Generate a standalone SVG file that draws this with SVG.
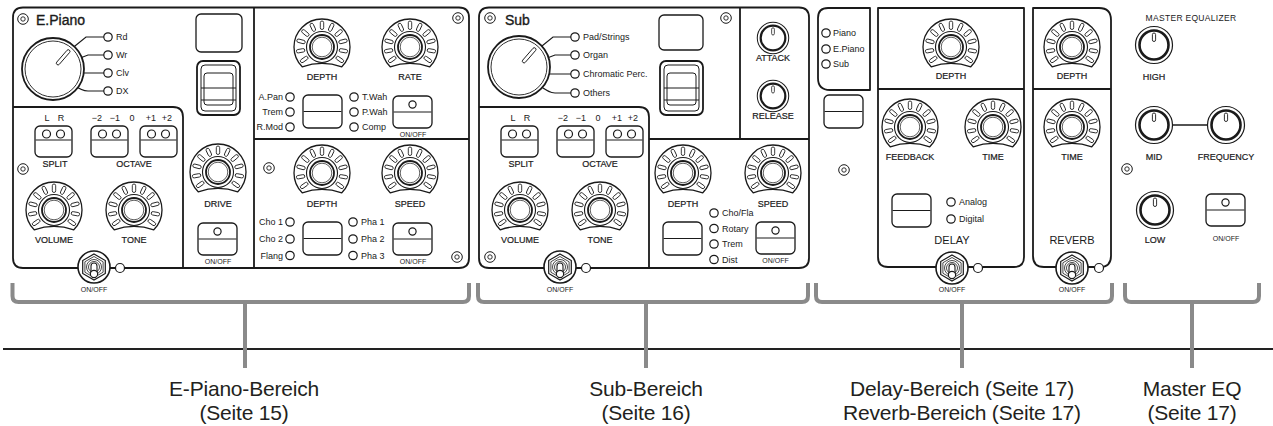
<svg xmlns="http://www.w3.org/2000/svg" width="1273" height="426" viewBox="0 0 1273 426">
<style>
.pn{fill:none;stroke:#1a1a1a;stroke-width:1.8;stroke-linejoin:round}
.w{fill:#fff;stroke:#1a1a1a;stroke-width:1.3}
.led{fill:#fff;stroke:#1a1a1a;stroke-width:1.2}
.th{fill:none;stroke:#1a1a1a;stroke-width:1.2}
text{font-family:"Liberation Sans",Arial,Helvetica,sans-serif;fill:#1a1a1a}
.k{font-size:9px;text-anchor:middle;stroke:#1a1a1a;stroke-width:0.2}
.lb{font-size:9px}
.e{text-anchor:end}
.m{text-anchor:middle}
.oo{font-size:7px;text-anchor:middle}
.ttl{font-size:14px;stroke:#1a1a1a;stroke-width:0.35}
.big{font-size:21px;text-anchor:middle;fill:#231f20;letter-spacing:-0.2px}
.br{fill:none;stroke:#8a8a8a;stroke-width:4;stroke-linejoin:round}
.stem{stroke:#8a8a8a;stroke-width:4}
</style>
<defs>
<g id="rk">
<path d="M-19.8,19.8 A28,28 0 1 1 19.8,19.8 Q0,13 -19.8,19.8 Z" fill="#fff" stroke="#1a1a1a" stroke-width="1.3"/>
<g fill="#fff" stroke="#1a1a1a" stroke-width="0.85">
<rect x="-1.7" y="-26" width="3.4" height="8.5" rx="1.7" transform="rotate(-125)"/>
<rect x="-1.7" y="-26" width="3.4" height="8.5" rx="1.7" transform="rotate(-100)"/>
<rect x="-1.7" y="-26" width="3.4" height="8.5" rx="1.7" transform="rotate(-75)"/>
<rect x="-1.7" y="-26" width="3.4" height="8.5" rx="1.7" transform="rotate(-50)"/>
<rect x="-1.7" y="-26" width="3.4" height="8.5" rx="1.7" transform="rotate(-25)"/>
<rect x="-1.7" y="-26" width="3.4" height="8.5" rx="1.7"/>
<rect x="-1.7" y="-26" width="3.4" height="8.5" rx="1.7" transform="rotate(25)"/>
<rect x="-1.7" y="-26" width="3.4" height="8.5" rx="1.7" transform="rotate(50)"/>
<rect x="-1.7" y="-26" width="3.4" height="8.5" rx="1.7" transform="rotate(75)"/>
<rect x="-1.7" y="-26" width="3.4" height="8.5" rx="1.7" transform="rotate(100)"/>
<rect x="-1.7" y="-26" width="3.4" height="8.5" rx="1.7" transform="rotate(125)"/>
</g>
<circle r="15.5" fill="#fff" stroke="#1a1a1a" stroke-width="1.1"/>
<circle r="12" fill="#fff" stroke="#1a1a1a" stroke-width="1.8"/>
<circle r="9.8" fill="none" stroke="#1a1a1a" stroke-width="0.7"/>
</g>
<g id="sk">
<circle r="18.5" fill="#fff" stroke="#1a1a1a" stroke-width="1.2"/>
<circle r="14.5" fill="#fff" stroke="#1a1a1a" stroke-width="2.6"/>
<rect x="-1.6" y="-12" width="3.2" height="8.5" rx="1.6" fill="#fff" stroke="#1a1a1a" stroke-width="0.9"/>
</g>
<g id="bk">
<circle r="31" fill="#fff" stroke="#1a1a1a" stroke-width="1.8"/>
<circle r="28" fill="none" stroke="#1a1a1a" stroke-width="0.9"/>
<rect x="-1.7" y="-25" width="3.4" height="19" rx="1.7" transform="rotate(41)" fill="#fff" stroke="#1a1a1a" stroke-width="0.9"/>
</g>
<g id="tg">
<circle r="16" fill="#fff" stroke="#1a1a1a" stroke-width="1.6"/>
<polygon points="0,-13 11.3,-6.5 11.3,6.5 0,13 -11.3,6.5 -11.3,-6.5" fill="#fff" stroke="#1a1a1a" stroke-width="1.2"/>
<polygon points="0,-10.5 9.1,-5.25 9.1,5.25 0,10.5 -9.1,5.25 -9.1,-5.25" fill="none" stroke="#1a1a1a" stroke-width="0.8"/>
<circle r="7.5" fill="none" stroke="#1a1a1a" stroke-width="0.8"/>
<circle r="5.5" fill="none" stroke="#1a1a1a" stroke-width="0.8"/>
<rect x="-3" y="-4" width="6" height="12" rx="3" fill="#fff" stroke="#1a1a1a" stroke-width="1.1"/>
<circle cy="7" r="3.6" fill="#fff" stroke="#1a1a1a" stroke-width="1.1"/>
</g>
<g id="sc"><circle r="5.3" fill="#fff" stroke="#1a1a1a" stroke-width="1"/><circle r="2.2" fill="none" stroke="#1a1a1a" stroke-width="0.9"/></g>
<g id="ob"><rect width="39" height="32" rx="5" class="w"/><line x1="0.6" y1="16" x2="38.4" y2="16" stroke="#1a1a1a" stroke-width="1.2"/><circle cx="19.5" cy="8.5" r="3.6" class="led"/></g>
<g id="sb"><rect width="39" height="33" rx="5" class="w"/><line x1="0.6" y1="16.5" x2="38.4" y2="16.5" stroke="#1a1a1a" stroke-width="1.2"/></g>
<g id="db"><rect width="37" height="31" rx="5" class="w"/><line x1="0.6" y1="14" x2="36.4" y2="14" stroke="#1a1a1a" stroke-width="1.2"/><circle cx="11.5" cy="8" r="4" class="led"/><circle cx="25.5" cy="8" r="4" class="led"/></g>
<g id="rock"><rect width="43" height="54" rx="6" fill="#fff" stroke="#1a1a1a" stroke-width="1.8"/><rect x="4" y="4" width="35" height="46" rx="4" fill="none" stroke="#1a1a1a" stroke-width="1"/><rect x="7" y="12" width="29" height="32" rx="3" fill="none" stroke="#1a1a1a" stroke-width="1"/><line x1="4" y1="27" x2="39" y2="27" stroke="#1a1a1a" stroke-width="1"/><line x1="4" y1="39" x2="39" y2="39" stroke="#1a1a1a" stroke-width="1"/></g>
</defs>

<rect width="1273" height="426" fill="#fff"/>

<g id="connectors">
<line x1="3" y1="349" x2="1273" y2="349" stroke="#222" stroke-width="2"/>
<path class="br" d="M12.5,283 V296 Q12.5,302 18.5,302 H463 Q469,302 469,296 V283"/>
<path class="br" d="M478,283 V296 Q478,302 484,302 H802 Q808,302 808,296 V283"/>
<path class="br" d="M816,283 V296 Q816,302 822,302 H1106 Q1112,302 1112,296 V283"/>
<path class="br" d="M1125,283 V296 Q1125,302 1131,302 H1253 Q1259,302 1259,296 V283"/>
<line class="stem" x1="245" y1="302" x2="245" y2="368"/>
<line class="stem" x1="646" y1="302" x2="646" y2="368"/>
<line class="stem" x1="962" y1="302" x2="962" y2="368"/>
<line class="stem" x1="1192" y1="302" x2="1192" y2="368"/>
</g>

<g id="epiano">
<path class="pn" d="M13,17.5 Q13,7.5 23,7.5 H459 Q469,7.5 469,17.5 V258 Q469,268 459,268 H23 Q13,268 13,258 Z"/>
<path class="pn" d="M13,107 H173 Q183,107 183,117 V268 M254,7.5 V268 M254,139 H469"/>
<use href="#sc" x="23" y="19"/>
<text class="ttl" x="36" y="25">E.Piano</text>
<path class="th" d="M104,37 H86 L70,50 M104,55 H88 L75,60 M104,73 H80 M104,91 H88 Q82,91 72,84"/>
<use href="#bk" x="53" y="69"/>
<circle class="led" cx="108" cy="37" r="4.2"/><circle class="led" cx="108" cy="55" r="4.2"/><circle class="led" cx="108" cy="73" r="4.2"/><circle class="led" cx="108" cy="91" r="4.2"/>
<text class="lb" x="116" y="40.3">Rd</text><text class="lb" x="116" y="58.3">Wr</text><text class="lb" x="116" y="76.3">Clv</text><text class="lb" x="116" y="94.3">DX</text>
<rect x="196" y="14" width="46" height="38" rx="5" class="w" stroke-width="1.5"/>
<use href="#rock" x="197" y="61"/>
<use href="#db" x="35" y="126"/><use href="#db" x="91" y="126"/><use href="#db" x="140" y="126"/>
<text class="lb m" x="47" y="121" font-size="8">L</text><text class="lb m" x="61" y="121" font-size="8">R</text>
<text class="lb m" x="97" y="121" font-size="8">−2</text><text class="lb m" x="115" y="121" font-size="8">−1</text><text class="lb m" x="132" y="121" font-size="8">0</text><text class="lb m" x="151" y="121" font-size="8">+1</text><text class="lb m" x="167" y="121" font-size="8">+2</text>
<text class="k" x="55" y="167">SPLIT</text><text class="k" x="134" y="167">OCTAVE</text>
<use href="#sc" x="23" y="169"/>
<use href="#rk" x="54" y="210"/><use href="#rk" x="134" y="210"/>
<text class="k" x="54" y="243">VOLUME</text><text class="k" x="134" y="243">TONE</text>
<use href="#tg" x="94" y="267"/><circle class="led" cx="120" cy="268" r="4.5"/>
<text class="oo" x="94" y="292">ON/OFF</text>
<use href="#rk" x="218" y="172"/><text class="k" x="218" y="207">DRIVE</text>
<use href="#ob" x="198" y="223"/><text class="oo" x="218" y="264">ON/OFF</text>
<use href="#rk" x="322" y="47"/><use href="#rk" x="410" y="47"/>
<text class="k" x="322" y="80">DEPTH</text><text class="k" x="410" y="80">RATE</text>
<use href="#sc" x="458" y="18"/>
<circle class="led" cx="290" cy="97" r="4.2"/><circle class="led" cx="290" cy="112" r="4.2"/><circle class="led" cx="290" cy="127" r="4.2"/>
<text class="lb e" x="283" y="100">A.Pan</text><text class="lb e" x="283" y="115">Trem</text><text class="lb e" x="283" y="130">R.Mod</text>
<use href="#sb" x="303" y="95"/>
<circle class="led" cx="354" cy="97" r="4.2"/><circle class="led" cx="354" cy="112" r="4.2"/><circle class="led" cx="354" cy="127" r="4.2"/>
<text class="lb" x="362" y="100">T.Wah</text><text class="lb" x="362" y="115">P.Wah</text><text class="lb" x="362" y="130">Comp</text>
<use href="#ob" x="393" y="96"/><text class="oo" x="413" y="136.5">ON/OFF</text>
<use href="#sc" x="269" y="168"/>
<use href="#rk" x="322" y="173"/><use href="#rk" x="410" y="173"/>
<text class="k" x="322" y="207">DEPTH</text><text class="k" x="410" y="207">SPEED</text>
<circle class="led" cx="290" cy="222" r="4.2"/><circle class="led" cx="290" cy="239" r="4.2"/><circle class="led" cx="290" cy="255.5" r="4.2"/>
<text class="lb e" x="283" y="225">Cho 1</text><text class="lb e" x="283" y="242">Cho 2</text><text class="lb e" x="283" y="258.5">Flang</text>
<use href="#sb" x="303" y="222"/>
<circle class="led" cx="353" cy="222" r="4.2"/><circle class="led" cx="353" cy="239" r="4.2"/><circle class="led" cx="353" cy="255.5" r="4.2"/>
<text class="lb" x="361" y="225">Pha 1</text><text class="lb" x="361" y="242">Pha 2</text><text class="lb" x="361" y="258.5">Pha 3</text>
<use href="#ob" x="393" y="223"/><text class="oo" x="413" y="264">ON/OFF</text>
<use href="#sc" x="457" y="257"/>
</g>

<g id="sub">
<path class="pn" d="M479,17.5 Q479,7.5 489,7.5 H799 Q809,7.5 809,17.5 V258 Q809,268 799,268 H489 Q479,268 479,258 Z"/>
<path class="pn" d="M479,107 H639 Q649,107 649,117 V268 M649,139 H809 M740,7.5 V139"/>
<use href="#sc" x="490" y="18"/>
<text class="ttl" x="505" y="25">Sub</text>
<path class="th" d="M571,37 H553 L537,50 M571,55 H555 L542,60 M571,74 H546 M571,93 H555 Q549,93 539,85"/>
<use href="#bk" x="519" y="67"/>
<circle class="led" cx="575" cy="37" r="4.2"/><circle class="led" cx="575" cy="55" r="4.2"/><circle class="led" cx="575" cy="74" r="4.2"/><circle class="led" cx="575" cy="93" r="4.2"/>
<text class="lb" x="583" y="40.3">Pad/Strings</text><text class="lb" x="583" y="58.3">Organ</text><text class="lb" x="583" y="77.3">Chromatic Perc.</text><text class="lb" x="583" y="96.3">Others</text>
<rect x="659" y="15" width="44" height="35" rx="5" class="w" stroke-width="1.5"/>
<use href="#rock" x="660" y="61"/>
<use href="#sc" x="726" y="18"/>
<use href="#sk" transform="translate(773,38) scale(0.85)"/><text class="k" x="773" y="61">ATTACK</text>
<use href="#sk" transform="translate(773,96) scale(0.85)"/><text class="k" x="773" y="119">RELEASE</text>
<use href="#db" x="501" y="126"/><use href="#db" x="557" y="126"/><use href="#db" x="606" y="126"/>
<text class="lb m" x="513" y="121" font-size="8">L</text><text class="lb m" x="527" y="121" font-size="8">R</text>
<text class="lb m" x="563" y="121" font-size="8">−2</text><text class="lb m" x="581" y="121" font-size="8">−1</text><text class="lb m" x="598" y="121" font-size="8">0</text><text class="lb m" x="617" y="121" font-size="8">+1</text><text class="lb m" x="633" y="121" font-size="8">+2</text>
<text class="k" x="521" y="167">SPLIT</text><text class="k" x="600" y="167">OCTAVE</text>
<use href="#rk" x="520" y="210"/><use href="#rk" x="600" y="210"/>
<text class="k" x="520" y="243">VOLUME</text><text class="k" x="600" y="243">TONE</text>
<use href="#sc" x="490" y="257"/>
<use href="#tg" x="560" y="267"/><circle class="led" cx="586" cy="268" r="4.5"/>
<text class="oo" x="560" y="292">ON/OFF</text>
<use href="#rk" x="683" y="173"/><use href="#rk" x="773" y="173"/>
<text class="k" x="683" y="207">DEPTH</text><text class="k" x="773" y="207">SPEED</text>
<use href="#sb" x="663" y="222"/>
<circle class="led" cx="714" cy="213" r="4.2"/><circle class="led" cx="714" cy="228.5" r="4.2"/><circle class="led" cx="714" cy="244" r="4.2"/><circle class="led" cx="714" cy="259.5" r="4.2"/>
<text class="lb" x="722" y="216">Cho/Fla</text><text class="lb" x="722" y="231.5">Rotary</text><text class="lb" x="722" y="247">Trem</text><text class="lb" x="722" y="262.5">Dist</text>
<use href="#ob" x="756" y="222"/><text class="oo" x="775.5" y="263">ON/OFF</text>
</g>

<g id="delay-reverb">
<path class="pn" d="M870,8 H828 Q818,8 818,18 V78 Q818,90 830,90 H870 Z"/>
<circle class="led" cx="826" cy="33" r="4.2"/><circle class="led" cx="826" cy="49" r="4.2"/><circle class="led" cx="826" cy="64" r="4.2"/>
<text class="lb" x="833" y="36" font-size="8.5">Piano</text><text class="lb" x="833" y="52" font-size="8.5">E.Piano</text><text class="lb" x="833" y="67" font-size="8.5">Sub</text>
<use href="#sb" x="824" y="95"/>
<use href="#sc" x="844" y="170"/>
<path class="pn" d="M878,8 H1024 V257 Q1024,267 1014,267 H888 Q878,267 878,257 Z M878,89 H1024"/>
<use href="#rk" x="951" y="47"/><text class="k" x="951" y="79">DEPTH</text>
<use href="#rk" x="910" y="127"/><use href="#rk" x="993" y="127"/>
<text class="k" x="910" y="160">FEEDBACK</text><text class="k" x="993" y="160">TIME</text>
<use href="#sb" x="892" y="194"/>
<circle class="led" cx="951" cy="202" r="4.2"/><circle class="led" cx="951" cy="219" r="4.2"/>
<text class="lb" x="959" y="205">Analog</text><text class="lb" x="959" y="222">Digital</text>
<text x="952" y="244" font-size="11" text-anchor="middle">DELAY</text>
<use href="#tg" x="952" y="268"/><circle class="led" cx="978" cy="268" r="4.5"/>
<text class="oo" x="952" y="292">ON/OFF</text>
<path class="pn" d="M1033,8 H1099 Q1111,8 1111,20 V256 Q1111,267 1100,267 H1044 Q1033,267 1033,256 Z M1033,89 H1111"/>
<use href="#rk" x="1072" y="47"/><text class="k" x="1072" y="79">DEPTH</text>
<use href="#rk" x="1072" y="127"/><text class="k" x="1072" y="160">TIME</text>
<text x="1072" y="244" font-size="11" text-anchor="middle">REVERB</text>
<use href="#tg" x="1072" y="268"/><circle class="led" cx="1099" cy="268" r="4.5"/>
<text class="oo" x="1072" y="292">ON/OFF</text>
</g>

<g id="master-eq">
<text class="m" x="1191" y="21" font-size="8.5" letter-spacing="0.3">MASTER EQUALIZER</text>
<use href="#sk" x="1154" y="45"/><text class="k" x="1154" y="80">HIGH</text>
<line x1="1172" y1="125" x2="1208" y2="125" stroke="#1a1a1a" stroke-width="1.3"/>
<use href="#sk" x="1154" y="125"/><use href="#sk" x="1226" y="125"/>
<text class="k" x="1154" y="160">MID</text><text class="k" x="1226" y="160">FREQUENCY</text>
<use href="#sc" x="1127" y="169"/>
<use href="#sk" x="1155" y="210"/><text class="k" x="1155" y="243">LOW</text>
<use href="#ob" x="1206" y="194"/><text class="oo" x="1226" y="241">ON/OFF</text>
</g>

<g id="labels">
<text class="big" x="244" y="396">E-Piano-Bereich</text><text class="big" x="244" y="420">(Seite 15)</text>
<text class="big" x="646" y="396">Sub-Bereich</text><text class="big" x="646" y="420">(Seite 16)</text>
<text class="big" x="962" y="396">Delay-Bereich (Seite 17)</text><text class="big" x="962" y="420">Reverb-Bereich (Seite 17)</text>
<text class="big" x="1192" y="396">Master EQ</text><text class="big" x="1192" y="420">(Seite 17)</text>
</g>
</svg>
